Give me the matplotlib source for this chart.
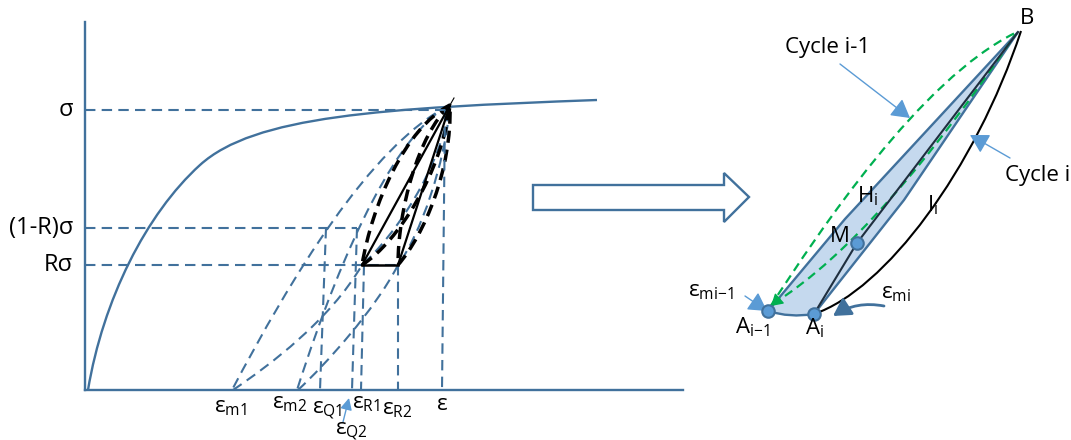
import matplotlib
matplotlib.use("Agg")
from matplotlib import pyplot as plt
from matplotlib.path import Path
from matplotlib.patches import PathPatch, Polygon, FancyArrowPatch

plt.rcParams["font.family"] = ["Open Sans", "DejaVu Sans"]

BLUE = "#41719c"
LIGHT = "#5b9bd5"
GREEN = "#00b050"
FILL = "#c5d9ee"
DARK = "#1f2f3f"

# ---------- left diagram (pixel coords, y grows downward) ----------
origin = (85, 390)
y_axis_top = 22
x_axis_end = 683
peak = (450, 105)
peak_tip = (454, 98)

stress_names = ["σ", "(1-R)σ", "Rσ"]
stress_y = [110, 228, 265]
stress_x_end = [448, 357, 398]

# vertical guide lines: (top x, top y, bottom x)
guides = [(326, 228, 320), (357, 228, 352), (364, 265, 361),
          (398, 265, 398), (445, 110, 442)]

strain_labels = [r"$\mathregular{ε_{m1}}$", r"$\mathregular{ε_{m2}}$",
                 r"$\mathregular{ε_{Q1}}$", r"$\mathregular{ε_{R1}}$",
                 r"$\mathregular{ε_{R2}}$", "ε", r"$\mathregular{ε_{Q2}}$"]
strain_label_xy = [(230, 408), (290, 404), (327, 410), (366, 404),
                   (397, 410), (442, 405), (351, 431)]

# monotonic curve (bezier control points)
monotonic = [(88, 390), (103, 300), (146, 214), (200, 165),
             (254, 116), (380, 108), (597, 100)]
# unloading curves peak -> eps_m
unload = [
    [peak, (370, 145), (290, 280), (232, 390)],
    [peak, (400, 130), (345, 240), (297, 390)],
]
# reloading curves eps_m -> R sigma -> peak
reload_ = [
    [(233, 390), (270, 365), (330, 320), (362, 265), (395, 235), (440, 170), peak],
    [(298, 390), (325, 365), (375, 310), (398, 265), (420, 235), (445, 165), peak],
]
# black dashed hysteresis loops
A1, A2 = (362, 265), (398, 265)
loops = [
    [peak, (405, 128), (372, 205), A1],
    [A1, (398, 242), (442, 172), peak],
    [peak, (418, 135), (398, 210), A2],
    [A2, (424, 235), (452, 170), peak],
]

# ---------- right diagram ----------
B = (1018, 32)
A_prev = (768, 311)
A_i = (814, 314)
M = (857, 243)
shade = [A_prev, (845, 219), B, (904, 200), A_i]
cycle_i = [A_i, (885, 290), (975, 170), (1021, 31)]
green_outer = [(770, 307), (820, 230), (920, 80), (1015, 33)]
green_inner = [(773, 304), (850, 255), (930, 160), (1015, 35)]

big_arrow = [(533, 185), (724, 185), (724, 173), (749, 197),
             (724, 222), (724, 210), (533, 210)]


def bezier(ax, pts, **kw):
    codes = [Path.MOVETO] + [Path.CURVE4] * (len(pts) - 1)
    ax.add_patch(PathPatch(Path(pts, codes), fill=False, **kw))


def seg(ax, p, q, **kw):
    ax.plot([p[0], q[0]], [p[1], q[1]], **kw)


def main():
    fig = plt.figure(figsize=(10.71, 4.40), dpi=100)
    ax = fig.add_axes([0, 0, 1, 1])
    ax.set_xlim(0, 1071)
    ax.set_ylim(440, 0)
    ax.axis("off")

    dash = dict(color=BLUE, lw=1.5, ls=(0, (5, 3)))
    bdash = dict(color="black", lw=2.5, ls=(0, (3.5, 2)))

    # axes of the left sketch
    seg(ax, (origin[0], y_axis_top), origin, color=BLUE, lw=1.7)
    seg(ax, origin, (x_axis_end, origin[1]), color=BLUE, lw=1.7)

    for name, y, xe in zip(stress_names, stress_y, stress_x_end):
        seg(ax, (origin[0], y), (xe, y), **dash)
        ax.text(73, y, name, ha="right", va="center", fontsize=17)

    for xt, yt, xb in guides:
        seg(ax, (xt, yt), (xb, origin[1]), **dash)

    bezier(ax, monotonic, color=BLUE, lw=1.7)
    for c in unload + reload_:
        bezier(ax, c, **dash)
    for c in loops:
        bezier(ax, c, **bdash)

    seg(ax, A1, peak, color="black", lw=1.6)
    seg(ax, A2, peak, color="black", lw=1.6)
    seg(ax, A1, A2, color="black", lw=1.8)
    seg(ax, peak, peak_tip, color="black", lw=0.8)

    for s, (x, y) in zip(strain_labels, strain_label_xy):
        ax.text(x, y, s, ha="center", va="center", fontsize=16)
    ax.add_patch(FancyArrowPatch((343, 422), (349, 398), color=LIGHT, lw=1,
                                 arrowstyle="-|>,head_length=0.5,head_width=0.25",
                                 mutation_scale=14, shrinkA=0, shrinkB=0))

    # hollow arrow
    ax.add_patch(Polygon(big_arrow, closed=True, fc="white", ec=BLUE, lw=1.7))

    # right sketch
    codes = [Path.MOVETO, Path.LINETO, Path.LINETO, Path.LINETO, Path.LINETO,
             Path.CURVE3, Path.CURVE3]
    verts = shade + [(790, 318), A_prev]
    ax.add_patch(PathPatch(Path(verts, codes), fc=FILL, ec=BLUE, lw=1.7))
    ax.plot([A_i[0], M[0], B[0]], [A_i[1], M[1], B[1]], color=DARK, lw=1.5)
    bezier(ax, cycle_i, color="black", lw=1.5)
    gdash = dict(color=GREEN, lw=1.6, ls=(0, (4, 2.5)))
    bezier(ax, green_outer, **gdash)
    bezier(ax, green_inner, **gdash)
    ax.add_patch(FancyArrowPatch((780, 298), (771, 306), color=GREEN, lw=1,
                                 arrowstyle="-|>,head_length=0.5,head_width=0.3",
                                 mutation_scale=14, shrinkA=0, shrinkB=0))

    for p in (A_prev, A_i, M):
        ax.plot(*p, "o", ms=9, mfc=LIGHT, mec=BLUE, mew=1.5)

    fs = 16
    ax.text(1027, 18, "B", ha="center", va="center", fontsize=fs)
    ax.text(828, 48, "Cycle i-1", ha="center", va="center", fontsize=fs)
    ax.text(1005, 176, "Cycle i", ha="left", va="center", fontsize=fs)
    ax.text(868, 196, r"$\mathregular{H_i}$", ha="center", va="center", fontsize=fs)
    ax.text(933, 205, r"$\mathregular{I_i}$", ha="center", va="center", fontsize=fs)
    ax.text(840, 236, "M", ha="center", va="center", fontsize=fs)
    ax.text(752, 327, r"$\mathregular{A_{i{-}1}}$", ha="center", va="center", fontsize=fs)
    ax.text(815, 328, r"$\mathregular{A_i}$", ha="center", va="center", fontsize=fs)
    ax.text(711, 291, r"$\mathregular{ε_{mi{-}1}}$", ha="center", va="center", fontsize=16)
    ax.text(896, 294, r"$\mathregular{ε_{mi}}$", ha="center", va="center", fontsize=16)

    astyle = "-|>,head_length=0.7,head_width=0.4"
    for a, b in [((840, 64), (910, 118)), ((1010, 158), (970, 135)),
                 ((745, 296), (767, 311))]:
        ax.add_patch(FancyArrowPatch(a, b, color=LIGHT, lw=1, arrowstyle=astyle,
                                     mutation_scale=16, shrinkA=0, shrinkB=0))
    ax.add_patch(FancyArrowPatch((884, 306), (833, 316), color=BLUE, lw=2,
                                 arrowstyle=astyle, mutation_scale=15,
                                 connectionstyle="arc3,rad=0.2",
                                 shrinkA=0, shrinkB=0))

    fig.savefig("out.png", dpi=100)


if __name__ == "__main__":
    main()
